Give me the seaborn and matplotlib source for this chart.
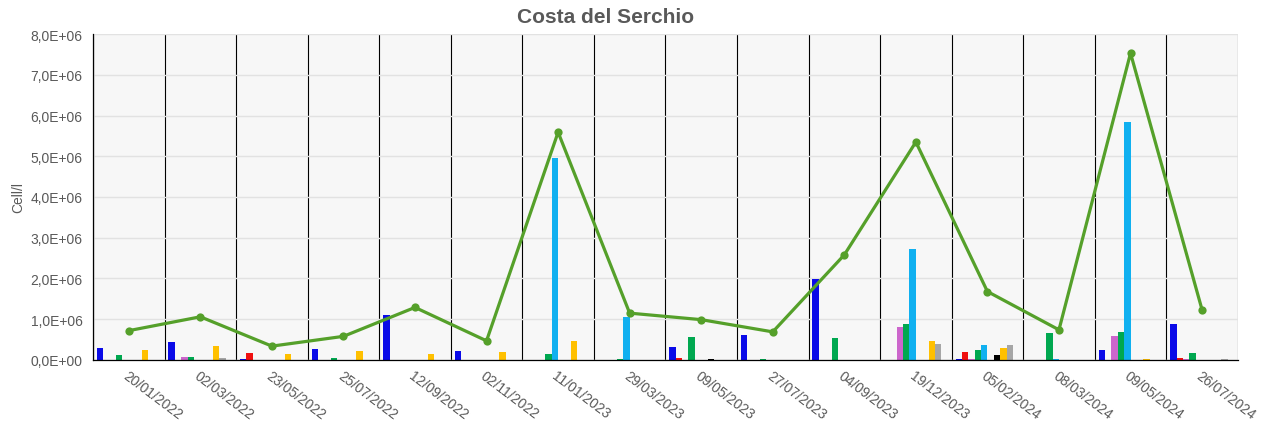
import numpy as np
import pandas as pd
import matplotlib
matplotlib.use("Agg")
import matplotlib.pyplot as plt
from matplotlib.ticker import FuncFormatter
import seaborn as sns

# sampling dates
dates = ["20/01/2022", "02/03/2022", "23/05/2022", "25/07/2022", "12/09/2022",
         "02/11/2022", "11/01/2023", "29/03/2023", "09/05/2023", "27/07/2023",
         "04/09/2023", "19/12/2023", "05/02/2024", "08/03/2024", "09/05/2024",
         "26/07/2024"]

# per-group values (cell/l), one list per coloured series
blue   = [2.9e5, 4.5e5, 2.0e4, 2.7e5, 1.11e6, 2.3e5, 0, 0, 3.3e5, 6.2e5, 1.99e6, 0, 2.0e4, 0, 2.5e5, 8.8e5]
red    = [0, 0, 1.7e5, 1.0e4, 0, 0, 0, 0, 5.0e4, 1.0e4, 0, 0, 1.9e5, 0, 0, 4.0e4]
pink   = [0, 7.0e4, 0, 0, 0, 0, 1.0e4, 0, 0, 1.0e4, 0, 8.2e5, 2.0e4, 0, 5.8e5, 3.0e4]
green  = [1.2e5, 7.0e4, 0, 5.0e4, 0, 0, 1.5e5, 2.0e4, 5.7e5, 2.0e4, 5.4e5, 8.8e5, 2.5e5, 6.6e5, 6.9e5, 1.7e5]
cyan   = [0, 0, 0, 0, 0, 0, 4.95e6, 1.05e6, 0, 0, 0, 2.72e6, 3.8e5, 2.0e4, 5.85e6, 0]
extra1 = [0] * 16
black  = [0, 0, 0, 0, 0, 0, 0, 0, 3.0e4, 0, 0, 0, 1.2e5, 0, 0, 0]
orange = [2.5e5, 3.5e5, 1.4e5, 2.3e5, 1.5e5, 1.9e5, 4.7e5, 0, 0, 0, 0, 4.7e5, 2.9e5, 0, 3.0e4, 0]
grey   = [0, 6.0e4, 0, 0, 0, 1.0e4, 0, 0, 0, 0, 0, 3.9e5, 3.7e5, 0, 0, 2.0e4]
extra2 = [0] * 16

# total line
total = [7.2e5, 1.06e6, 3.4e5, 5.8e5, 1.29e6, 4.7e5, 5.59e6, 1.15e6, 9.9e5, 6.9e5,
         2.58e6, 5.35e6, 1.68e6, 7.4e5, 7.53e6, 1.23e6]

series = {"s1": blue, "s2": red, "s3": pink, "s4": green, "s5": cyan,
          "s6": extra1, "s7": black, "s8": orange, "s9": grey, "s10": extra2}
colors = ["#0a0ae8", "#f01010", "#cc66cc", "#00a850", "#10b0f0",
          "#2e8b57", "#000000", "#ffc000", "#a6a6a6", "#7f7f7f"]

rows = []
for name, vals in series.items():
    for d, v in zip(dates, vals):
        rows.append({"date": d, "series": name, "value": v})
df = pd.DataFrame(rows)

sns.set_style("white")
plt.rcParams["font.family"] = ["Liberation Sans", "DejaVu Sans"]

fig = plt.figure(figsize=(12.67, 4.27), dpi=100)
ax = fig.add_axes([0.0734, 0.1546, 0.9036, 0.7634])
ax.set_facecolor("#f7f7f7")

sns.barplot(data=df, x="date", y="value", hue="series", order=dates,
            palette=colors, width=0.89, legend=False, ax=ax, saturation=1,
            linewidth=0)
sns.pointplot(x=dates, y=total, order=dates, color="#55a02a", markers="o",
              linewidth=2.3, markersize=4.2, ax=ax)

ax.set_xlim(-0.5, len(dates) - 0.5)
ax.set_ylim(0, 8e6)
ax.set_yticks(np.arange(0, 8.01e6, 1e6))
ax.yaxis.set_major_formatter(FuncFormatter(
    lambda v, p: "0,0E+00" if v == 0 else f"{v / 1e6:.1f}".replace(".", ",") + "E+06"))
ax.yaxis.grid(True, color="#e2e2e2", linewidth=1)
ax.set_axisbelow(True)

# group separators
for b in np.arange(-0.5, len(dates), 1.0):
    ax.axvline(b, color="black", linewidth=0.8, zorder=0.5)
ax.set_xticks(np.arange(-0.5, len(dates), 1.0), minor=True)
ax.tick_params(axis="x", which="minor", length=5, width=0.8, color="black")
ax.tick_params(axis="x", which="major", length=0, pad=6)
ax.tick_params(axis="y", length=4, width=0.8, color="black", labelcolor="#595959", labelsize=10)

ax.set_xticks(range(len(dates)))
ax.set_xticklabels(dates, rotation=-37, ha="left", va="top", rotation_mode="anchor",
                   color="#595959", fontsize=10)

for s in ["top", "right"]:
    ax.spines[s].set_visible(False)
for s in ["left", "bottom"]:
    ax.spines[s].set_color("black")
    ax.spines[s].set_linewidth(0.9)

ax.set_xlabel("")
ax.set_ylabel("Cell/l", color="#595959", fontsize=10, labelpad=4)
fig.text(0.478, 0.96, "Costa del Serchio", fontsize=15, fontweight="bold",
         color="#595959", ha="center", va="center")

fig.savefig("out.png", dpi=100)
